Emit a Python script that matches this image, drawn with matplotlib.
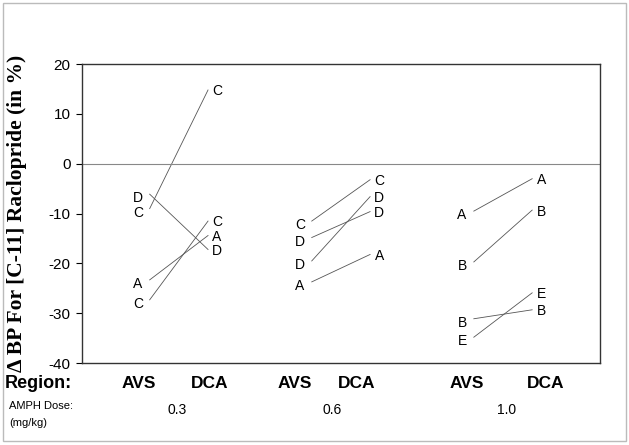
import matplotlib.pyplot as plt
from matplotlib.patches import Rectangle

# Data (change in BP, %)
doses = ['0.3', '0.6', '1.0']
regions = ['AVS', 'DCA']

subj_03 = ['C', 'D', 'A', 'C']
avs_03 = [-9.0, -6.1, -23.3, -27.3]
dca_03 = [14.8, -17.2, -14.4, -11.5]

subj_06 = ['C', 'D', 'D', 'A']
avs_06 = [-11.5, -14.8, -19.5, -23.7]
dca_06 = [-3.2, -9.6, -6.6, -18.2]

subj_10 = ['A', 'B', 'B', 'E']
avs_10 = [-9.5, -19.7, -31.1, -34.8]
dca_10 = [-3.0, -9.3, -29.3, -25.9]

groups = [(subj_03, avs_03, dca_03), (subj_06, avs_06, dca_06), (subj_10, avs_10, dca_10)]

plt.rcParams['font.family'] = ['Liberation Sans', 'DejaVu Sans']
plt.rcParams['axes.unicode_minus'] = False

W, H = 629, 445
fig = plt.figure(figsize=(W / 100, H / 100), dpi=100)
ax = fig.add_axes([0.130, 0.184, 0.824, 0.672])

half = 0.18
for g, (subj, avs, dca) in enumerate(groups, start=1):
    xa, xd = g - half, g + half
    for s, a, d in zip(subj, avs, dca):
        ax.plot([xa, xd], [a, d], color='#555555', lw=0.6)
        ax.annotate(s, (xa, a), xytext=(-8.5, -3), textcoords='offset points',
                    ha='center', va='center', fontsize=10)
        ax.annotate(s, (xd, d), xytext=(6.5, -1), textcoords='offset points',
                    ha='center', va='center', fontsize=10)

ax.axhline(0, color='#888888', lw=0.8)

ax.set_xlim(0.401, 3.599)
ax.set_ylim(-40, 20)
ax.set_yticks(range(-40, 21, 10))
ax.set_xticks([])
ax.tick_params(axis='y', direction='out', length=4, width=0.8, labelsize=11, pad=4)
for sp in ax.spines.values():
    sp.set_color('#333333')
    sp.set_linewidth(1.0)

ax.set_ylabel('\u0394 BP For [C-11] Raclopride (in %)', family=['Liberation Serif', 'DejaVu Serif'],
              fontweight='bold', fontsize=15.5)
ax.yaxis.set_label_coords(-0.106, 0.5)

# bottom text boxes (pixel positions in the figure)
region_x = [139, 210, 295, 357, 467, 546]
dose_x = [177, 332, 507]
for i, x in enumerate(region_x):
    fig.text(x / W, 1 - 383 / H, regions[i % 2], ha='center', va='center',
             fontsize=12.5, fontweight='bold')
for x, dose in zip(dose_x, doses):
    fig.text(x / W, 1 - 410 / H, dose, ha='center', va='center', fontsize=10)

fig.text(38 / W, 1 - 384 / H, 'Region:', ha='center', va='center', fontsize=13, fontweight='bold')
fig.text(9 / W, 1 - 406 / H, 'AMPH Dose:', ha='left', va='center', fontsize=8)
fig.text(9 / W, 1 - 423 / H, '(mg/kg)', ha='left', va='center', fontsize=8)

fig.patches.append(Rectangle((0.005, 0.008), 0.99, 0.985, transform=fig.transFigure,
                             fill=False, edgecolor='#bbbbbb', lw=1.0))

plt.savefig('out.png', dpi=100)
